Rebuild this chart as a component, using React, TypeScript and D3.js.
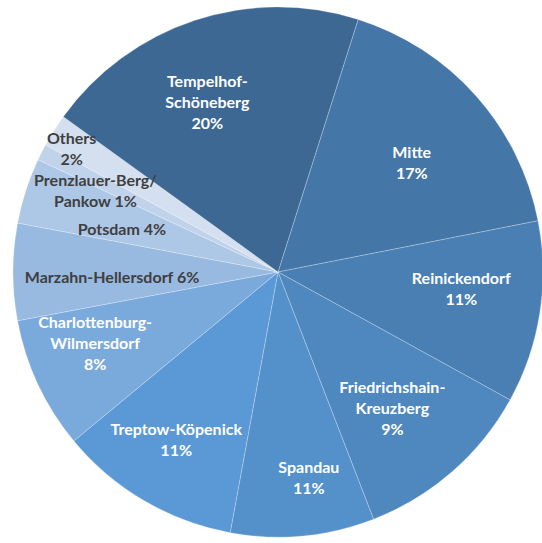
import React from "react";
import * as d3 from "d3";

// Slices in clockwise order, starting at Mitte
const districts = [
  "Mitte",
  "Reinickendorf",
  "Friedrichshain-Kreuzberg",
  "Spandau",
  "Treptow-Köpenick",
  "Charlottenburg-Wilmersdorf",
  "Marzahn-Hellersdorf",
  "Potsdam",
  "Prenzlauer-Berg/Pankow",
  "Others",
  "Tempelhof-Schöneberg",
];
// slice sizes (percent)
const shares = [17, 11.1, 11.1, 8.75, 11.1, 8.05, 5.9, 4, 1, 2, 19.9];
// label lines as printed on the chart
const labelLines = [
  ["Mitte", "17%"],
  ["Reinickendorf", "11%"],
  ["Friedrichshain-", "Kreuzberg", "9%"],
  ["Spandau", "11%"],
  ["Treptow-Köpenick", "11%"],
  ["Charlottenburg-", "Wilmersdorf", "8%"],
  ["Marzahn-Hellersdorf 6%"],
  ["Potsdam 4%"],
  ["Prenzlauer-Berg/", "Pankow 1%"],
  ["Others", "2%"],
  ["Tempelhof-", "Schöneberg", "20%"],
];

const colors = [
  "#4576a8",
  "#4a7fb4",
  "#4f87bf",
  "#5490ca",
  "#5a99d5",
  "#7aa9dc",
  "#98b9e0",
  "#adc7e6",
  "#c1d3eb",
  "#d4dfef",
  "#3d6894",
];
const textColors = [
  "#ffffff", "#ffffff", "#ffffff", "#ffffff", "#ffffff", "#ffffff",
  "#3f3f3f", "#3f3f3f", "#3f3f3f", "#3f3f3f", "#ffffff",
];
// label placement: radius (px) and angle nudge (deg) relative to slice middle
const labelRadius = [173, 184, 177, 207, 196, 196, 166, 162, 200, 241, 185];
const labelNudge = [2.4, -3.8, 0.9, -3.2, 0.9, 4, -1.5, -2.4, -2.8, -1.2, -4.2];

const W = 542;
const H = 543;
const cx = 278;
const cy = 272;
const R = 265;
const startDeg = 17.6;

export default function App() {
  const pie = d3
    .pie<number>()
    .sort(null)
    .value((d) => d)
    .startAngle((startDeg * Math.PI) / 180)
    .endAngle((startDeg * Math.PI) / 180 + 2 * Math.PI);
  const arcs = pie(shares);
  const arc = d3.arc<d3.PieArcDatum<number>>().innerRadius(0).outerRadius(R);
  const lineH = 21;

  return (
    <svg
      width={W}
      height={H}
      style={{ position: "absolute", left: 0, top: 0, display: "block", background: "#fff" }}
    >
      <g transform={`translate(${cx},${cy})`}>
        {arcs.map((a, i) => (
          <path
            key={districts[i]}
            d={arc(a) || ""}
            fill={colors[i]}
            stroke="#ffffff"
            strokeOpacity={0.25}
            strokeWidth={1}
          />
        ))}
        {arcs.map((a, i) => {
          const mid = (a.startAngle + a.endAngle) / 2 + (labelNudge[i] * Math.PI) / 180;
          const r = labelRadius[i];
          const x = r * Math.sin(mid);
          const y = -r * Math.cos(mid);
          const lines = labelLines[i];
          const n = lines.length;
          return (
            <text
              key={"l" + i}
              x={x}
              y={y}
              textAnchor="middle"
              fontFamily="Lato, 'Open Sans', sans-serif"
              fontWeight={700}
              fontSize={16}
              fill={textColors[i]}
            >
              {lines.map((t, j) => (
                <tspan
                  key={j}
                  x={x}
                  y={y + (j - (n - 1) / 2) * lineH}
                  dominantBaseline="central"
                >
                  {t}
                </tspan>
              ))}
            </text>
          );
        })}
      </g>
    </svg>
  );
}
